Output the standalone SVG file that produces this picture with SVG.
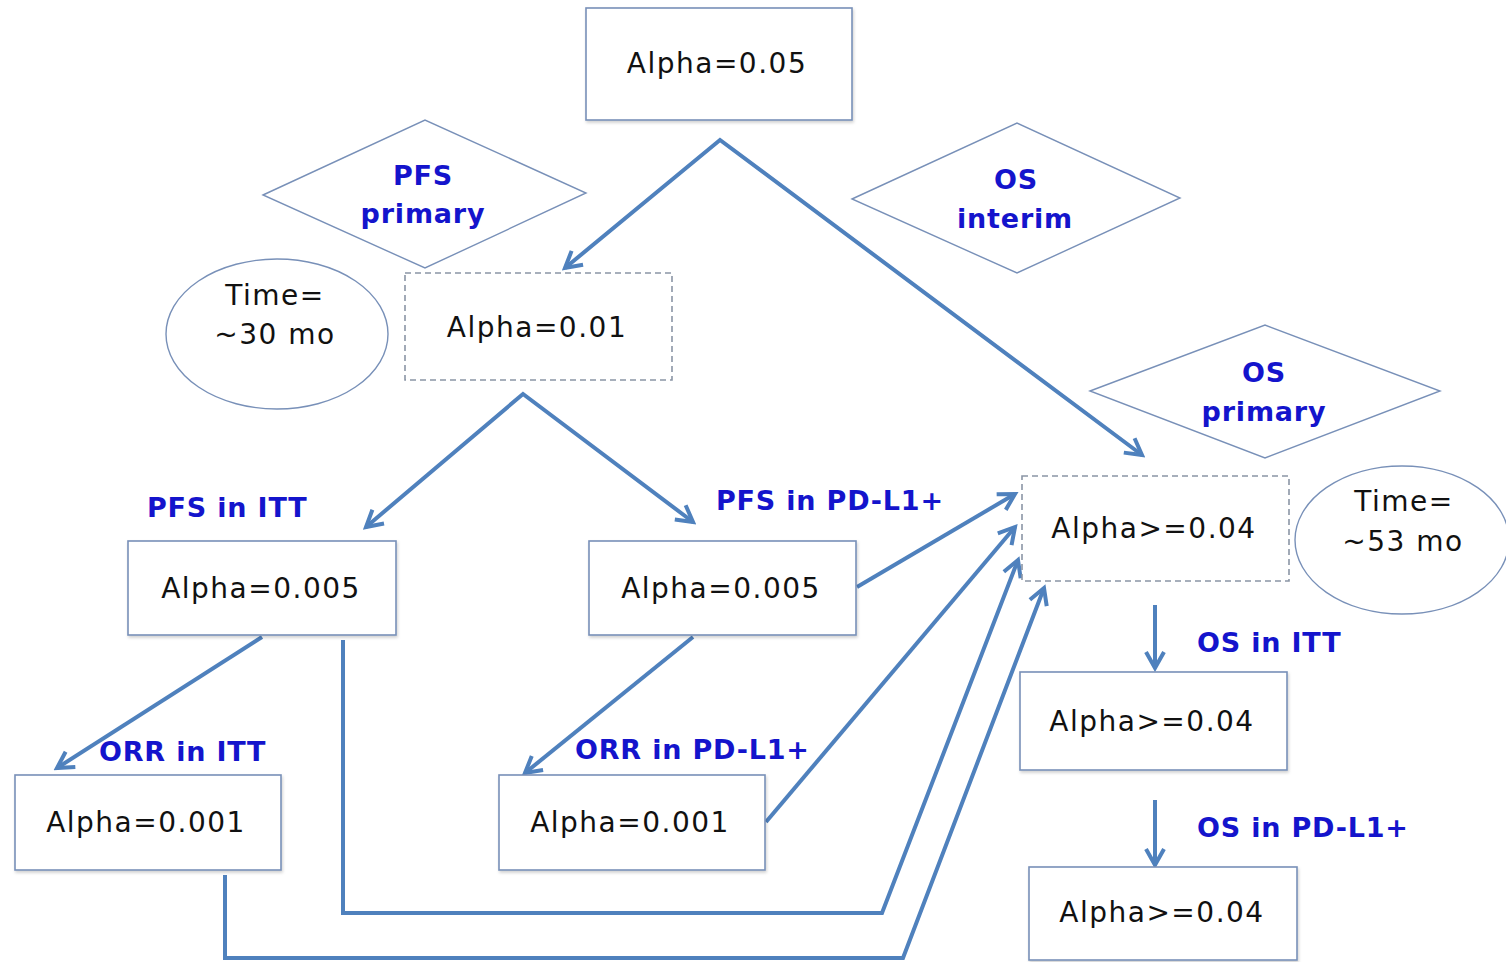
<svg xmlns="http://www.w3.org/2000/svg" width="1506" height="962" viewBox="0 0 1506 962">
<defs>
<marker id="arr" markerUnits="userSpaceOnUse" markerWidth="26" markerHeight="26" viewBox="0 0 26 26" refX="22" refY="13" orient="auto-start-reverse">
<path d="M6,4 L22,13 L6,22" fill="none" stroke="#4f81bd" stroke-width="4" stroke-linejoin="miter"/>
</marker>
<filter id="sh" x="-5%" y="-5%" width="112%" height="115%">
<feDropShadow dx="1" dy="2" stdDeviation="1.5" flood-color="#000" flood-opacity="0.18"/>
</filter>
</defs>
<style>
.box{fill:#fff;stroke:#7890b8;stroke-width:1.6;filter:url(#sh)}
.dbox{fill:#fff;stroke:#8a95a5;stroke-width:1.6;stroke-dasharray:6 4}
.shape{fill:#fff;stroke:#7890b8;stroke-width:1.4}
.t{font-family:"DejaVu Sans","Liberation Sans",sans-serif;font-size:28px;fill:#111;text-anchor:middle;letter-spacing:1.5px}
.b{font-family:"DejaVu Sans","Liberation Sans",sans-serif;font-size:27px;font-weight:bold;fill:#1414cc;letter-spacing:0.8px}
.bc{text-anchor:middle}
.c{fill:none;stroke:#4f81bd;stroke-width:4}
</style>
<rect width="1506" height="962" fill="#fff"/>

<g id="connectors">
<polyline class="c" points="565,268 720,140 1142,455" marker-start="url(#arr)" marker-end="url(#arr)"/>
<polyline class="c" points="366,527 523,394 693,522" marker-start="url(#arr)" marker-end="url(#arr)"/>
<line class="c" x1="857" y1="587" x2="1015" y2="494" marker-end="url(#arr)"/>
<line class="c" x1="262" y1="637" x2="57" y2="768" marker-end="url(#arr)"/>
<line class="c" x1="693" y1="637" x2="525" y2="773" marker-end="url(#arr)"/>
<line class="c" x1="766" y1="822" x2="1015" y2="527" marker-end="url(#arr)"/>
<polyline class="c" points="343,640 343,913 882,913 1018,560" marker-end="url(#arr)"/>
<polyline class="c" points="225,875 225,958 903,958 1044,588" marker-end="url(#arr)"/>
<line class="c" x1="1155" y1="605" x2="1155" y2="668" marker-end="url(#arr)"/>
<line class="c" x1="1155" y1="800" x2="1155" y2="865" marker-end="url(#arr)"/>
</g>

<g id="n-alpha005">
<rect class="box" x="586" y="8" width="266" height="112"/>
<text class="t" x="717" y="73">Alpha=0.05</text>
</g>

<g id="n-pfs-primary">
<polygon class="shape" points="263,195 425,120 586,193 425,268"/>
<text class="b bc" x="423" y="185">PFS</text>
<text class="b bc" x="423" y="223">primary</text>
</g>

<g id="n-os-interim">
<polygon class="shape" points="852,199 1017,123 1180,198 1017,273"/>
<text class="b bc" x="1016" y="189">OS</text>
<text class="b bc" x="1015" y="228">interim</text>
</g>

<g id="n-os-primary">
<polygon class="shape" points="1090,391 1265,325 1440,391 1265,458"/>
<text class="b bc" x="1264" y="382">OS</text>
<text class="b bc" x="1264" y="421">primary</text>
</g>

<g id="n-time30">
<ellipse class="shape" cx="277" cy="334" rx="111" ry="75"/>
<text class="t" x="275" y="305">Time=</text>
<text class="t" x="275" y="344">~30 mo</text>
</g>

<g id="n-time53">
<ellipse class="shape" cx="1402" cy="540" rx="107" ry="74"/>
<text class="t" x="1404" y="511">Time=</text>
<text class="t" x="1403" y="551">~53 mo</text>
</g>

<g id="n-alpha001">
<rect class="dbox" x="405" y="273" width="267" height="107"/>
<text class="t" x="537" y="337">Alpha=0.01</text>
</g>

<g id="n-pfs-itt">
<text class="b" x="147" y="517">PFS in ITT</text>
<rect class="box" x="128" y="541" width="268" height="94"/>
<text class="t" x="261" y="598">Alpha=0.005</text>
</g>

<g id="n-pfs-pdl1">
<text class="b" x="716" y="510">PFS in PD-L1+</text>
<rect class="box" x="589" y="541" width="267" height="94"/>
<text class="t" x="721" y="598">Alpha=0.005</text>
</g>

<g id="n-orr-itt">
<text class="b" x="99" y="761">ORR in ITT</text>
<rect class="box" x="15" y="775" width="266" height="95"/>
<text class="t" x="146" y="832">Alpha=0.001</text>
</g>

<g id="n-orr-pdl1">
<text class="b" x="575" y="759">ORR in PD-L1+</text>
<rect class="box" x="499" y="775" width="266" height="95"/>
<text class="t" x="630" y="832">Alpha=0.001</text>
</g>

<g id="n-os-alpha">
<rect class="dbox" x="1022" y="476" width="267" height="105"/>
<text class="t" x="1154" y="538">Alpha&gt;=0.04</text>
</g>

<g id="n-os-itt">
<text class="b" x="1197" y="652">OS in ITT</text>
<rect class="box" x="1020" y="672" width="267" height="98"/>
<text class="t" x="1152" y="731">Alpha&gt;=0.04</text>
</g>

<g id="n-os-pdl1">
<text class="b" x="1197" y="837">OS in PD-L1+</text>
<rect class="box" x="1029" y="867" width="268" height="93"/>
<text class="t" x="1162" y="922">Alpha&gt;=0.04</text>
</g>
</svg>
